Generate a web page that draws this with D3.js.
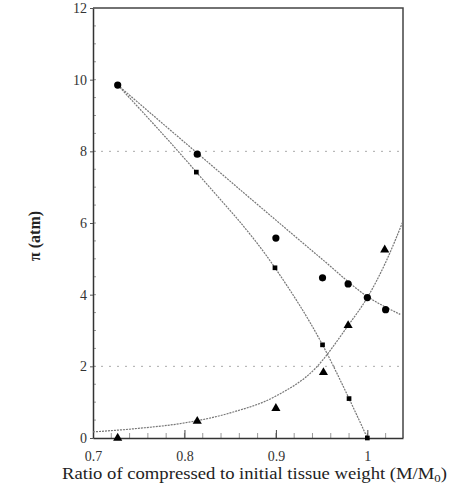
<!DOCTYPE html>
<html lang="en">
  <head>
    <meta charset="utf-8">
    <title>Osmotic pressure vs weight ratio</title>
    <script src="https://cdnjs.cloudflare.com/ajax/libs/d3/7.8.5/d3.min.js"></script>
    <style type="text/css">
      body { margin: 0; background: #fff; }
    </style>
  </head>
  <body>
    <script type="text/javascript">
    // data
    var circleX = [0.727, 0.814, 0.900, 0.951, 0.979, 1.000, 1.020];
    var circleY = [9.85, 7.92, 5.58, 4.47, 4.30, 3.92, 3.58];

    var squareX = [0.727, 0.813, 0.899, 0.951, 0.980, 1.000];
    var squareY = [9.85, 7.42, 4.75, 2.60, 1.10, 0.00];

    var triX = [0.727, 0.814, 0.900, 0.952, 0.979, 1.019];
    var triY = [0.00, 0.47, 0.83, 1.83, 3.14, 5.25];

    // fitted curves
    var fitCircleX = [0.727, 0.814, 0.900, 0.951, 1.000, 1.036];
    var fitCircleY = [9.85, 7.95, 6.08, 4.98, 3.95, 3.45];

    var fitSquareX = [0.727, 0.813, 0.899, 0.951, 0.980, 1.000];
    var fitSquareY = [9.85, 7.42, 4.75, 2.60, 1.10, 0.00];

    var fitTriX = [0.700, 0.750, 0.800, 0.850, 0.900, 0.943, 0.979, 1.000, 1.020, 1.039];
    var fitTriY = [0.17, 0.27, 0.42, 0.70, 1.17, 1.94, 3.14, 3.92, 4.90, 6.05];

    var xTicks = [0.7, 0.8, 0.9, 1.0];
    var yTicks = [0, 2, 4, 6, 8, 10, 12];
    var gridY = [2, 8];

    var serif = "'Liberation Serif', 'DejaVu Serif', serif";
    var w = 466, h = 495;
    var m = {top: 8, right: 63, bottom: 57, left: 93};

    var svg = d3.select("body")
                .append("svg")
                .attr("width", w)
                .attr("height", h);

    var x = d3.scaleLinear().domain([0.7, 1.039]).range([m.left, w - m.right]);
    var y = d3.scaleLinear().domain([0, 12]).range([h - m.bottom, m.top]);

    function pts(xs, ys) {
      return xs.map(function(d, i) { return [d, ys[i]]; });
    }

    // dotted grid
    svg.selectAll(".grid")
       .data(gridY)
       .enter()
       .append("line")
       .attr("x1", x(0.7)).attr("x2", x(1.039))
       .attr("y1", function(d) { return y(d); })
       .attr("y2", function(d) { return y(d); })
       .attr("stroke", "#aaa")
       .attr("stroke-width", 1)
       .attr("stroke-dasharray", "2,6");

    // minor ticks inside
    var minorX = d3.range(0.72, 1.039, 0.02);
    svg.selectAll(".mx")
       .data(minorX)
       .enter()
       .append("line")
       .attr("x1", function(d) { return x(d); })
       .attr("x2", function(d) { return x(d); })
       .attr("y1", y(0)).attr("y2", y(0) - 5)
       .attr("stroke", "#999");
    svg.selectAll(".my")
       .data(d3.range(0.5, 12, 0.5))
       .enter()
       .append("line")
       .attr("x1", x(0.7)).attr("x2", x(0.7) + 3)
       .attr("y1", function(d) { return y(d); })
       .attr("y2", function(d) { return y(d); })
       .attr("stroke", "#999");

    // axes
    svg.append("g")
       .attr("transform", "translate(0," + y(0) + ")")
       .call(d3.axisBottom(x).tickValues(xTicks).tickSizeInner(-8).tickSizeOuter(0).tickPadding(13)
             .tickFormat(function(d) { return d === 1 ? "1" : d3.format(".1f")(d); }))
       .call(function(g) {
          g.attr("font-family", serif).attr("font-size", 14);
          g.select(".domain").attr("stroke", "#333").attr("stroke-width", 1.5);
          g.selectAll("line").attr("stroke", "#444");
          g.selectAll("text").attr("fill", "#333").style("font-family", serif);
       });

    svg.append("g")
       .attr("transform", "translate(" + x(0.7) + ",0)")
       .call(d3.axisLeft(y).tickValues(yTicks).tickSizeInner(3).tickSizeOuter(0).tickPadding(3))
       .call(function(g) {
          g.attr("font-family", serif).attr("font-size", 14);
          g.select(".domain").attr("stroke", "#333").attr("stroke-width", 1.5);
          g.selectAll("line").attr("stroke", "#555");
          g.selectAll("text").attr("fill", "#333").style("font-family", serif);
       });

    // top and right frame
    svg.append("path")
       .attr("d", "M" + x(0.7) + "," + y(12) + "H" + x(1.039) + "V" + y(0))
       .attr("fill", "none")
       .attr("stroke", "#444")
       .attr("stroke-width", 1.5);

    // fitted curves
    var line = d3.line()
                 .x(function(d) { return x(d[0]); })
                 .y(function(d) { return y(d[1]); })
                 .curve(d3.curveMonotoneX);

    [pts(fitCircleX, fitCircleY), pts(fitSquareX, fitSquareY), pts(fitTriX, fitTriY)]
      .forEach(function(p) {
        svg.append("path")
           .attr("d", line(p))
           .attr("fill", "none")
           .attr("stroke", "#777")
           .attr("stroke-width", 1.2)
           .attr("stroke-dasharray", "2,1");
      });

    // markers
    svg.selectAll(".circ")
       .data(pts(circleX, circleY))
       .enter()
       .append("circle")
       .attr("cx", function(d) { return x(d[0]); })
       .attr("cy", function(d) { return y(d[1]); })
       .attr("r", 3.6)
       .attr("fill", "#000");

    var sq = d3.symbol().type(d3.symbolSquare).size(22);
    svg.selectAll(".sq")
       .data(pts(squareX, squareY))
       .enter()
       .append("path")
       .attr("d", sq)
       .attr("transform", function(d) { return "translate(" + x(d[0]) + "," + y(d[1]) + ")"; })
       .attr("fill", "#000");

    var tri = d3.symbol().type(d3.symbolTriangle).size(36);
    svg.selectAll(".tri")
       .data(pts(triX, triY))
       .enter()
       .append("path")
       .attr("d", tri)
       .attr("transform", function(d) { return "translate(" + x(d[0]) + "," + y(d[1]) + ")"; })
       .attr("fill", "#000");

    // axis titles
    var xt = svg.append("text")
       .attr("x", 62)
       .attr("y", 479)
       .style("font-family", serif)
       .attr("font-size", "16px")
       .attr("fill", "#222")
       .attr("textLength", 385)
       .attr("lengthAdjust", "spacingAndGlyphs");
    xt.append("tspan").text("Ratio of compressed to initial tissue weight (M/M");
    xt.append("tspan").attr("font-size", "11px").attr("dy", 3).text("0");
    xt.append("tspan").attr("dy", -3).text(")");

    svg.append("text")
       .attr("transform", "translate(40,236) rotate(-90)")
       .attr("text-anchor", "middle")
       .style("font-family", serif)
       .attr("font-size", "16px")
       .attr("font-weight", "bold")
       .attr("fill", "#222")
       .text("\u03c0 (atm)");
    </script>
  </body>
</html>
